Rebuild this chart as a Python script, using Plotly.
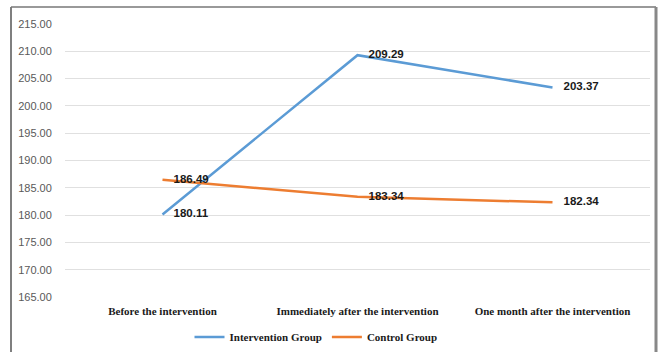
import plotly.graph_objects as go

categories = ["Before the intervention", "Immediately after the intervention", "One month after the intervention"]
intervention = [180.11, 209.29, 203.37]
control = [186.49, 183.34, 182.34]
y_ticks = [165, 170, 175, 180, 185, 190, 195, 200, 205, 210, 215]
y_tick_labels = [f"{v:.2f}" for v in y_ticks]

BLUE = "#5B9BD5"
ORANGE = "#ED7D31"

fig = go.Figure()
for name, vals, col in [("Intervention Group", intervention, BLUE), ("Control Group", control, ORANGE)]:
    fig.add_trace(go.Scatter(
        x=categories, y=vals, name=name,
        mode="lines+markers+text",
        line=dict(color=col, width=2.5),
        marker=dict(size=16, color="rgba(0,0,0,0)"),
        text=[f"{v:.2f}" for v in vals],
        textposition="middle right",
        textfont=dict(family="Liberation Sans", size=11.5, color="#1a1a1a", weight="bold"),
        cliponaxis=False,
    ))

W, H = 659, 352
L, R, T, B = 65, 9, 24, 55
pw, ph = W - L - R, H - T - B

def px(x):
    return (x - L) / pw

def py(y):
    return (H - B - y) / ph

fig.update_layout(
    width=W, height=H,
    margin=dict(l=L, r=R, t=T, b=B, autoexpand=False),
    paper_bgcolor="white", plot_bgcolor="white",
    showlegend=True,
    legend=dict(orientation="h", x=px(316), xanchor="center", y=py(337), yanchor="middle",
                font=dict(family="Liberation Serif", size=11, color="#1a1a1a", weight="bold"),
                itemwidth=30, tracegroupgap=0, bgcolor="rgba(0,0,0,0)"),
    xaxis=dict(range=[-0.5, 2.5], showgrid=False, showline=False, ticks="outside", ticklen=4,
               tickcolor="rgba(0,0,0,0)", automargin=False,
               tickfont=dict(family="Liberation Serif", size=11, color="#1a1a1a", weight="bold")),
    yaxis=dict(range=[165, 215], tickvals=y_ticks, ticktext=y_tick_labels, automargin=False,
               showgrid=True, gridcolor="#e0e0e0", gridwidth=1, zeroline=False,
               showline=False, ticks="outside", ticklen=10, tickcolor="rgba(0,0,0,0)",
               tickfont=dict(family="Liberation Sans", size=11, color="#595959")),
    shapes=[
        dict(type="line", xref="paper", yref="paper", x0=px(11), x1=px(11), y0=py(7), y1=py(360),
             line=dict(color="#555555", width=1.5)),
        dict(type="line", xref="paper", yref="paper", x0=px(11), x1=px(656), y0=py(7), y1=py(7),
             line=dict(color="#777777", width=1.5)),
        dict(type="line", xref="paper", yref="paper", x0=px(656), x1=px(656), y0=py(7), y1=py(360),
             line=dict(color="#888888", width=3)),
    ],
)

fig.write_html("out.html", config={"displayModeBar": False},
               post_script="document.body.style.margin='0';")
